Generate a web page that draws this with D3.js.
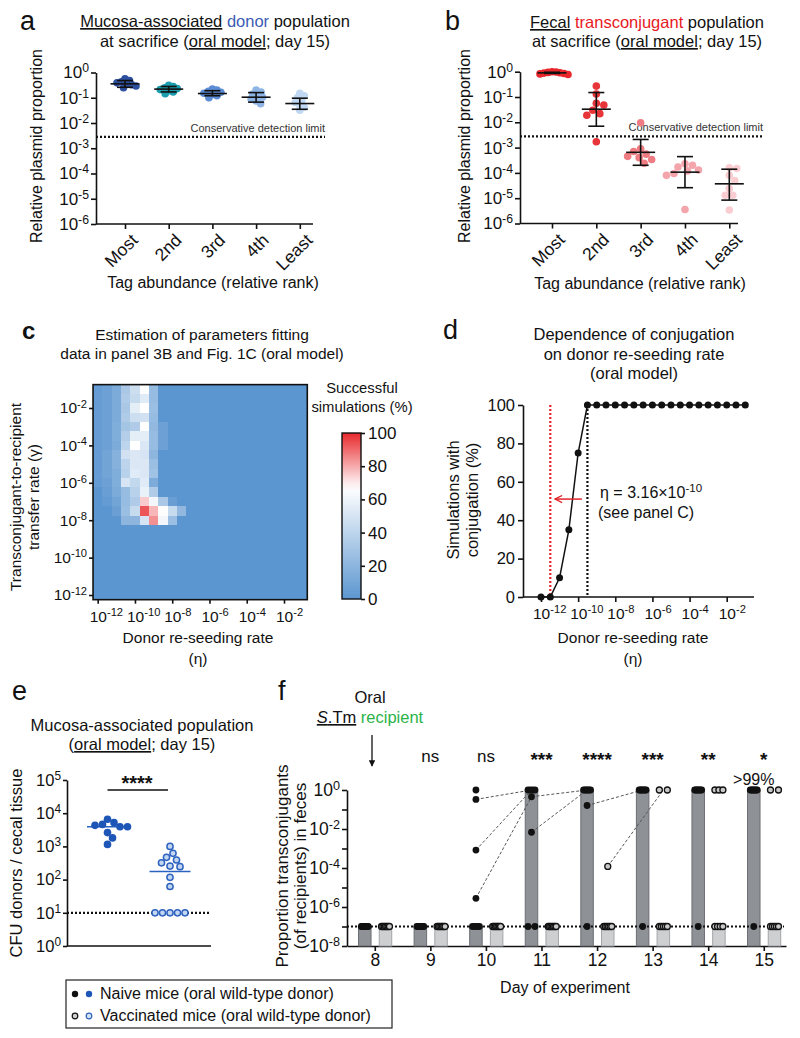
<!DOCTYPE html>
<html>
<head>
<meta charset="utf-8">
<script src="https://cdn.jsdelivr.net/npm/d3@7/dist/d3.min.js"></script>
<style>
html,body{margin:0;padding:0;background:#fff;}
svg{display:block;font-family:"Liberation Sans",Arial,Helvetica,sans-serif;}
</style>
</head>
<body>
<svg id="fig" width="800" height="1038" viewBox="0 0 800 1038"></svg>
<script>
// ================= DATA =================
// Panels a / b
const ranks = ["Most", "2nd", "3rd", "4th", "Least"];
const logTicksAB = [0, -1, -2, -3, -4, -5, -6];
const detectionLimit = 0.0028;

const donorPoints = [
  [0.56, 0.48, 0.43, 0.39, 0.36, 0.33, 0.29, 0.25],
  [0.31, 0.28, 0.25, 0.23, 0.21, 0.19, 0.17, 0.145],
  [0.22, 0.2, 0.18, 0.165, 0.15, 0.135, 0.12, 0.1],
  [0.2, 0.17, 0.14, 0.12, 0.105, 0.09, 0.075, 0.058],
  [0.15, 0.12, 0.1, 0.08, 0.065, 0.052, 0.042, 0.032]
];
const donorMedian = [0.355, 0.22, 0.147, 0.105, 0.059];
const donorLow = [0.26, 0.17, 0.12, 0.067, 0.035];
const donorHigh = [0.48, 0.28, 0.19, 0.16, 0.096];
const donorColors = ["#2d4f9f", "#1c9dad", "#5b8cd5", "#8fb5e7", "#c0d8f2"];

const tcPoints = [
  [1.0, 0.97, 0.94, 0.91, 0.88, 0.85, 0.82, 0.78],
  [0.27, 0.13, 0.056, 0.048, 0.03, 0.022, 0.019, 0.0017],
  [0.0096, 0.0009, 0.0007, 0.00055, 0.00045, 0.0004, 0.00034, 0.00024],
  [0.00023, 0.0002, 0.00017, 0.00013, 0.00012, 0.000095, 0.00008, 0.0000036],
  [0.00016, 0.00015, 0.00008, 0.00005, 0.000024, 0.000013, 0.000013, 0.0000034]
];
const tcMedian = [0.9, 0.033, 0.00065, 0.000107, 0.000037];
const tcLow = [0.86, 0.007, 0.0002, 0.000026, 0.0000084];
const tcHigh = [0.95, 0.15, 0.0021, 0.00044, 0.00014];
const tcColors = ["#e8262c", "#e8353a", "#ef7c82", "#f4a5ab", "#f9cdd1"];

// Panel c : heat map (log10 exponents, half-decade grid)
const etaExp = [-12, -11.5, -11, -10.5, -10, -9.5, -9, -8.5, -8, -7.5, -7, -6.5, -6, -5.5, -5, -4.5, -4, -3.5, -3, -2.5, -2, -1.5, -1];
const gammaExp = [-1, -1.5, -2, -2.5, -3, -3.5, -4, -4.5, -5, -5.5, -6, -6.5, -7, -7.5, -8, -8.5, -9, -9.5, -10, -10.5, -11, -11.5, -12];
// success (%) per gamma row (top to bottom), columns in etaExp order; columns / rows not listed are 0
const successPct = [
  [4, 7, 13, 32, 46, 66, 24, 0],
  [4, 7, 13, 34, 44, 54, 24, 0],
  [4, 7, 13, 32, 56, 67, 26, 0],
  [4, 7, 13, 34, 46, 48, 24, 0],
  [4, 7, 15, 30, 34, 66, 22, 7],
  [4, 7, 15, 36, 56, 56, 24, 7],
  [4, 7, 13, 40, 67, 52, 24, 7],
  [4, 9, 17, 48, 52, 50, 20, 0],
  [4, 9, 17, 40, 52, 52, 26, 0],
  [4, 9, 15, 38, 54, 52, 28, 0],
  [3, 7, 15, 50, 42, 54, 14, 0],
  [0, 5, 13, 24, 38, 58, 34, 0],
  [0, 3, 9, 24, 34, 75, 62, 32, 5],
  [0, 0, 6, 26, 44, 93, 78, 66, 44, 22],
  [0, 0, 0, 20, 20, 50, 84, 62, 26, 0]
];
const colorbarTicks = [0, 20, 40, 60, 80, 100];

// Panel d
const etaD = [-12, -11.5, -11, -10.5, -10, -9.5, -9, -8.5, -8, -7.5, -7, -6.5, -6, -5.5, -5, -4.5, -4, -3.5, -3, -2.5, -2, -1.5, -1];
const conjPct = [0, 0, 10, 35, 75, 100, 100, 100, 100, 100, 100, 100, 100, 100, 100, 100, 100, 100, 100, 100, 100, 100, 100];
const etaFitted = -9.5;   // 3.16e-10
const etaRed = -11.5;

// Panel e
const eGroups = ["Naive", "Vaccinated"];
const naiveCFU = [6600, 5200, 4600, 4300, 3900, 3900, 2600, 1800, 1150];
const vaccCFU = [1000, 620, 470, 390, 320, 255, 245, 117, 62, 10, 10, 10, 10, 10];
const eMedians = [3900, 175];
const cfuLimit = 10;

// Panel f
const days = [8, 9, 10, 11, 12, 13, 14, 15];
const LOD = 1e-7;
const naiveProp = [
  [LOD, LOD, LOD, LOD, LOD, LOD, LOD, LOD],
  [LOD, LOD, LOD, LOD, LOD, LOD, LOD, LOD],
  [1, 0.33, 8.3e-4, 2.8e-6, LOD, LOD, LOD, LOD],
  [1, 1, 1, 1, 0.45, 6.8e-3, LOD, LOD],
  [1, 1, 1, 1, 1, 1, 0.16, LOD],
  [1, 1, 1, 1, 1, 1, 1, LOD],
  [1, 1, 1, 1, 1, 1, 1, LOD],
  [1, 1, 1, 1, 1, 1, 1, LOD]
];
const vaccProp = [
  [LOD, LOD, LOD, LOD, LOD, LOD, LOD],
  [LOD, LOD, LOD, LOD, LOD, LOD, LOD],
  [LOD, LOD, LOD, LOD, LOD, LOD, LOD],
  [LOD, LOD, LOD, LOD, LOD, LOD, LOD],
  [1.2e-4, LOD, LOD, LOD, LOD, LOD, LOD],
  [1, 1, LOD, LOD, LOD, LOD, LOD],
  [1, 1, 1, LOD, LOD, LOD, LOD],
  [1, 1, LOD, LOD, LOD, LOD, LOD]
];
const naiveBar = [LOD, LOD, LOD, 1, 1, 1, 1, 1];
const vaccBar = [LOD, LOD, LOD, LOD, LOD, LOD, LOD, LOD];
// [day from, value from, day to, value to, group]
const fLinks = [
  [10, 0.33, 11, 1, "n"],
  [10, 8.3e-4, 11, 1, "n"],
  [10, 2.8e-6, 11, 0.45, "n"],
  [11, 0.45, 12, 1, "n"],
  [11, 6.8e-3, 12, 1, "n"],
  [12, 0.16, 13, 1, "n"],
  [12, 1.2e-4, 13, 1, "v"]
];
const sigLabels = ["", "ns", "ns", "***", "****", "***", "**", "*"];

// ================= HELPERS =================
const svg = d3.select("#fig");
const defs = svg.append("defs");
const INK = "#111";

function supLabels(sel, expOf) {
  sel.each(function (d) {
    const t = d3.select(this);
    t.text(null);
    t.append("tspan").text("10");
    t.append("tspan").attr("dy", "-0.5em").attr("font-size", "0.72em").text(String(expOf(d)));
  });
}
function styleAxis(g, fs) {
  g.attr("font-family", null).attr("font-size", fs);
  g.select(".domain").attr("stroke", INK).attr("stroke-width", 1.6);
  g.selectAll(".tick line").attr("stroke", INK).attr("stroke-width", 1.6);
  g.selectAll(".tick text").attr("fill", INK);
}
function text(g, x, y, parts, o = {}) {
  const t = g.append("text").attr("x", x).attr("y", y)
    .attr("font-size", o.size || 16).attr("text-anchor", o.anchor || "middle").attr("fill", INK);
  if (o.rotate) t.attr("transform", `rotate(${o.rotate},${x},${y})`);
  if (o.weight) t.attr("font-weight", o.weight);
  parts.forEach(p => {
    if (typeof p === "string") p = { t: p };
    const s = t.append("tspan").text(p.t);
    if (p.fill) s.attr("fill", p.fill);
    if (p.u) s.attr("text-decoration", "underline");
    if (p.i) s.attr("font-style", "italic");
    if (p.sup) s.attr("dy", "-0.5em").attr("font-size", "0.72em");
  });
  return t;
}
function swarm(values, y, cx, minDist) {
  const pts = values.map(v => ({ v, y: y(v) })).sort((a, b) => a.y - b.y);
  const placed = [];
  pts.forEach((p, k) => {
    let dx = 0;
    for (let s = 0; s <= 40; s += 0.5) {
      const cands = s === 0 ? [0] : (k % 2 ? [s, -s] : [-s, s]);
      const hit = cands.find(c => placed.every(q => (q.dx - c) ** 2 + (q.y - p.y) ** 2 >= minDist * minDist));
      if (hit !== undefined) { dx = hit; break; }
    }
    p.dx = dx; p.x = cx + dx; placed.push(p);
  });
  return pts;
}
function spread(values, y, cx, half) {
  const out = [];
  d3.group(values, v => v).forEach((arr, v) => {
    const n = arr.length;
    arr.forEach((_, k) => out.push({ v, x: cx + (n === 1 ? 0 : -half + 2 * half * k / (n - 1)), y: y(v) }));
  });
  return out;
}

// ================= PANELS a & b =================
function dotPanel(o) {
  const g = svg.append("g");
  const y = d3.scaleLog().domain([1e-6, 1]).range([o.y0, o.y1]);
  const x = d3.scalePoint().domain(ranks).range([o.xFirst, o.xLast]);
  const ya = g.append("g").attr("transform", `translate(${o.axisX},0)`)
    .call(d3.axisLeft(y).tickValues(logTicksAB.map(e => Math.pow(10, e))).tickSize(5).tickSizeOuter(0).tickPadding(2));
  styleAxis(ya, 17);
  supLabels(ya.selectAll(".tick text"), d => Math.round(Math.log10(d)));
  const xa = g.append("g").attr("transform", `translate(0,${o.y0})`)
    .call(d3.axisBottom(x).tickSize(5).tickSizeOuter(0));
  styleAxis(xa, 17.5);
  xa.select(".domain").attr("d", `M${o.axisX},0H${o.axisRight}`);
  xa.selectAll(".tick text").attr("text-anchor", "end").attr("y", 0).attr("dy", "0.35em")
    .attr("transform", "translate(9,13) rotate(-45)");
  // detection limit
  g.append("line").attr("x1", o.axisX).attr("x2", o.limitRight)
    .attr("y1", y(detectionLimit)).attr("y2", y(detectionLimit))
    .attr("stroke", INK).attr("stroke-width", 2.2).attr("stroke-dasharray", "2,2");
  g.append("text").attr("x", o.limitRight).attr("y", y(detectionLimit) - 5).attr("text-anchor", "end")
    .attr("font-size", 11).attr("fill", "#333").text("Conservative detection limit");
  ranks.forEach((r, i) => {
    const cx = x(r);
    g.append("g").selectAll("circle").data(swarm(o.points[i], y, cx, o.minDist[i])).join("circle")
      .attr("cx", d => d.x).attr("cy", d => d.y).attr("r", 3.8).attr("fill", o.colors[i]);
    const eb = g.append("g").attr("stroke", INK).attr("stroke-width", 1.6);
    eb.append("line").attr("x1", cx).attr("x2", cx).attr("y1", y(o.hi[i])).attr("y2", y(o.lo[i]));
    eb.append("line").attr("x1", cx - 8).attr("x2", cx + 8).attr("y1", y(o.hi[i])).attr("y2", y(o.hi[i]));
    eb.append("line").attr("x1", cx - 8).attr("x2", cx + 8).attr("y1", y(o.lo[i])).attr("y2", y(o.lo[i]));
    eb.append("line").attr("x1", cx - 14.5).attr("x2", cx + 14.5).attr("y1", y(o.med[i])).attr("y2", y(o.med[i]));
  });
}
dotPanel({ y0: 224, y1: 72.5, axisX: 96, xFirst: 125, xLast: 299.8, axisRight: 313, limitRight: 325,
  points: donorPoints, med: donorMedian, lo: donorLow, hi: donorHigh, colors: donorColors, minDist: [4.5, 4.5, 4.5, 5, 5] });
dotPanel({ y0: 223.5, y1: 71.7, axisX: 520, xFirst: 552, xLast: 729.3, axisRight: 738, limitRight: 763,
  points: tcPoints, med: tcMedian, lo: tcLow, hi: tcHigh, colors: tcColors, minDist: [4, 7.5, 7.5, 7.5, 7.5] });

const gt = svg.append("g");
text(gt, 20, 30, ["a"], { size: 27, anchor: "start" });
text(gt, 215, 27, [{ t: "Mucosa-associated", u: 1 }, " ", { t: "donor", fill: "#3a5cb4" }, " population"], { size: 16.5 });
text(gt, 215, 47, ["at sacrifice (", { t: "oral model", u: 1 }, "; day 15)"], { size: 16.5 });
text(gt, 42, 146, ["Relative plasmid proportion"], { rotate: -90 });
text(gt, 213, 288, ["Tag abundance (relative rank)"]);
text(gt, 445, 30, ["b"], { size: 27, anchor: "start" });
text(gt, 647, 28, [{ t: "Fecal", u: 1 }, " ", { t: "transconjugant", fill: "#e8191f" }, " population"], { size: 16.5 });
text(gt, 647, 47, ["at sacrifice (", { t: "oral model", u: 1 }, "; day 15)"], { size: 16.5 });
text(gt, 470, 146, ["Relative plasmid proportion"], { rotate: -90 });
text(gt, 640, 289, ["Tag abundance (relative rank)"]);

// ================= PANEL c =================
{
  const g = svg.append("g");
  const xC = d3.scaleLinear().domain([-12, -2]).range([97.7, 284]);
  const yC = d3.scaleLinear().domain([-12, -2]).range([595, 408]);
  const heat = d3.scaleLinear().domain([0, 67, 100]).range(["#5c96d0", "#ffffff", "#e8282c"]);
  const cells = [];
  gammaExp.forEach((ge, j) => etaExp.forEach((ee, i) => {
    const row = successPct[j] || [];
    cells.push({ ge, ee, v: row[i] !== undefined ? row[i] : 0 });
  }));
  g.append("g").attr("shape-rendering", "crispEdges").selectAll("rect").data(cells).join("rect")
    .attr("x", d => xC(d.ee - 0.25)).attr("width", d => xC(d.ee + 0.25) - xC(d.ee - 0.25) + 0.5)
    .attr("y", d => yC(d.ge + 0.25)).attr("height", d => yC(d.ge - 0.25) - yC(d.ge + 0.25) + 0.5)
    .attr("fill", d => heat(d.v));
  const left = xC(-12.25), right = xC(-0.75), top = yC(-0.75), bottom = yC(-12.25);
  g.append("rect").attr("x", left).attr("y", top).attr("width", right - left).attr("height", bottom - top)
    .attr("fill", "none").attr("stroke", INK).attr("stroke-width", 1.6);
  const ya = g.append("g").attr("transform", `translate(${left},0)`)
    .call(d3.axisLeft(yC).tickValues([-2, -4, -6, -8, -10, -12]).tickSize(4).tickSizeOuter(0).tickPadding(2));
  styleAxis(ya, 15.5); ya.select(".domain").remove();
  supLabels(ya.selectAll(".tick text"), d => d);
  const xa = g.append("g").attr("transform", `translate(0,${bottom})`)
    .call(d3.axisBottom(xC).tickValues([-12, -10, -8, -6, -4, -2]).tickSize(4).tickSizeOuter(0).tickPadding(7));
  styleAxis(xa, 15.5); xa.select(".domain").remove();
  xa.selectAll(".tick text").attr("text-anchor", "start").attr("x", -8.5);
  supLabels(xa.selectAll(".tick text"), d => d);

  // colour bar
  const cb = d3.scaleLinear().domain([0, 100]).range([599, 433]);
  const grad = defs.append("linearGradient").attr("id", "cbgrad")
    .attr("x1", 0).attr("y1", 1).attr("x2", 0).attr("y2", 0);
  d3.range(0, 101, 5).forEach(v => grad.append("stop").attr("offset", v / 100).attr("stop-color", heat(v)));
  g.append("rect").attr("x", 342).attr("y", cb(100)).attr("width", 19).attr("height", cb(0) - cb(100))
    .attr("fill", "url(#cbgrad)").attr("stroke", INK).attr("stroke-width", 1.4);
  const ca = g.append("g").attr("transform", "translate(361,0)")
    .call(d3.axisRight(cb).tickValues(colorbarTicks).tickSize(4).tickSizeOuter(0).tickPadding(3));
  styleAxis(ca, 17); ca.select(".domain").remove();

  text(g, 22, 339, ["c"], { size: 24, anchor: "start", weight: "bold" });
  text(g, 202, 340, ["Estimation of parameters fitting"], { size: 15.5 });
  text(g, 202, 359, ["data in panel 3B and Fig. 1C (oral model)"], { size: 15.5 });
  text(g, 21, 497, ["Transconjugant-to-recipient"], { rotate: -90, size: 15.5 });
  text(g, 39, 497, ["transfer rate (γ)"], { rotate: -90, size: 15.5 });
  text(g, 198, 643, ["Donor re-seeding rate"], { size: 15.5 });
  text(g, 198, 664, ["(η)"], { size: 15.5 });
  text(g, 362, 393, ["Successful"], { size: 14.8 });
  text(g, 362, 412, ["simulations (%)"], { size: 14.8 });
}

// ================= PANEL d =================
{
  const g = svg.append("g");
  const xD = d3.scaleLinear().domain([-12, -2]).range([541, 726.7]);
  const yD = d3.scaleLinear().domain([0, 100]).range([597, 405]);
  const ya = g.append("g").attr("transform", "translate(523,0)")
    .call(d3.axisLeft(yD).tickValues([0, 20, 40, 60, 80, 100]).tickSize(5).tickSizeOuter(0).tickPadding(3));
  styleAxis(ya, 16.5);
  const xa = g.append("g").attr("transform", "translate(0,597)")
    .call(d3.axisBottom(xD).tickValues([-12, -10, -8, -6, -4, -2]).tickSize(5).tickSizeOuter(0).tickPadding(6));
  styleAxis(xa, 15.5);
  xa.select(".domain").attr("d", "M523,0H754");
  xa.selectAll(".tick text").attr("text-anchor", "start").attr("x", -8.5);
  supLabels(xa.selectAll(".tick text"), d => d);

  [[etaRed, "#e3242b"], [etaFitted, INK]].forEach(([e, c]) => {
    g.append("line").attr("x1", xD(e)).attr("x2", xD(e)).attr("y1", yD(100)).attr("y2", yD(0))
      .attr("stroke", c).attr("stroke-width", 2.2).attr("stroke-dasharray", "2,2");
  });
  const pts = etaD.map((e, i) => ({ e, v: conjPct[i] }));
  g.append("path").datum(pts).attr("fill", "none").attr("stroke", INK).attr("stroke-width", 1.5)
    .attr("d", d3.line().x(d => xD(d.e)).y(d => yD(d.v)));
  g.selectAll("circle").data(pts).join("circle").attr("cx", d => xD(d.e)).attr("cy", d => yD(d.v))
    .attr("r", 3.5).attr("fill", INK);
  // red arrow pointing left
  defs.append("marker").attr("id", "arrRed").attr("viewBox", "0 0 10 10").attr("refX", 9).attr("refY", 5)
    .attr("markerUnits", "userSpaceOnUse").attr("markerWidth", 9).attr("markerHeight", 9).attr("orient", "auto")
    .append("path").attr("d", "M1,1L9,5L1,9").attr("fill", "none").attr("stroke", "#e3242b").attr("stroke-width", 1.4);
  g.append("line").attr("x1", xD(-9.8)).attr("x2", xD(-11.25)).attr("y1", yD(51)).attr("y2", yD(51))
    .attr("stroke", "#e3242b").attr("stroke-width", 1.5).attr("marker-end", "url(#arrRed)");
  text(g, 600, 498, ["η = 3.16×10", { t: "-10", sup: 1 }], { anchor: "start", size: 16 });
  text(g, 598, 518, ["(see panel C)"], { anchor: "start", size: 16 });

  text(g, 443, 339, ["d"], { size: 27, anchor: "start" });
  text(g, 634, 340, ["Dependence of conjugation"], { size: 16.5 });
  text(g, 634, 360, ["on donor re-seeding rate"], { size: 16.5 });
  text(g, 634, 379, ["(oral model)"], { size: 16.5 });
  text(g, 459, 500, ["Simulations with"], { rotate: -90, size: 16.5 });
  text(g, 478, 500, ["conjugation (%)"], { rotate: -90, size: 16.5 });
  text(g, 633, 643, ["Donor re-seeding rate"], { size: 15.5 });
  text(g, 633, 664, ["(η)"], { size: 15.5 });
}

// ================= PANEL e =================
{
  const g = svg.append("g");
  const yE = d3.scaleLog().domain([1, 1e5]).range([946, 780]);
  const xE = d3.scalePoint().domain(eGroups).range([107.5, 170]);
  const ya = g.append("g").attr("transform", "translate(67,0)")
    .call(d3.axisLeft(yE).tickValues([1, 10, 100, 1000, 1e4, 1e5]).tickSize(4).tickSizeOuter(0).tickPadding(2));
  styleAxis(ya, 16.5);
  supLabels(ya.selectAll(".tick text"), d => Math.round(Math.log10(d)));
  g.append("line").attr("x1", 67).attr("x2", 211).attr("y1", 946).attr("y2", 946).attr("stroke", INK).attr("stroke-width", 1.6);
  g.append("line").attr("x1", 67).attr("x2", 211).attr("y1", yE(cfuLimit)).attr("y2", yE(cfuLimit))
    .attr("stroke", INK).attr("stroke-width", 2.2).attr("stroke-dasharray", "2,2");
  eMedians.forEach((m, i) => {
    const cx = xE(eGroups[i]);
    g.append("line").attr("x1", cx - 20.5).attr("x2", cx + 20.5).attr("y1", yE(m)).attr("y2", yE(m))
      .attr("stroke", "#2a62c2").attr("stroke-width", 1.6);
  });
  g.selectAll(".nv").data(swarm(naiveCFU, yE, xE("Naive"), 7.2)).join("circle")
    .attr("cx", d => d.x).attr("cy", d => d.y).attr("r", 3.8).attr("fill", "#1d56b6");
  g.selectAll(".vc").data(swarm(vaccCFU, yE, xE("Vaccinated"), 7.4)).join("circle")
    .attr("cx", d => d.x).attr("cy", d => d.y).attr("r", 3.1).attr("fill", "#c4d7f1")
    .attr("stroke", "#2f63c0").attr("stroke-width", 1.5);
  g.append("line").attr("x1", xE("Naive")).attr("x2", 168).attr("y1", 790).attr("y2", 790).attr("stroke", INK).attr("stroke-width", 1.6);
  text(g, 137, 790, ["****"], { size: 20, weight: "bold" });

  text(g, 12, 700, ["e"], { size: 27, anchor: "start" });
  text(g, 142, 731, ["Mucosa-associated population"], { size: 16.5 });
  text(g, 142, 750, ["(", { t: "oral model", u: 1 }, "; day 15)"], { size: 16.5 });
  text(g, 22, 863, ["CFU donors / cecal tissue"], { rotate: -90, size: 16.5 });

  // legend
  g.append("rect").attr("x", 66).attr("y", 980).attr("width", 326).attr("height", 48)
    .attr("fill", "#fff").attr("stroke", "#222").attr("stroke-width", 1.2);
  g.append("circle").attr("cx", 75).attr("cy", 994).attr("r", 3.2).attr("fill", INK);
  g.append("circle").attr("cx", 89).attr("cy", 994).attr("r", 3.2).attr("fill", "#1d56b6");
  g.append("circle").attr("cx", 75).attr("cy", 1016).attr("r", 2.8).attr("fill", "#cfcfcf").attr("stroke", INK).attr("stroke-width", 1.2);
  g.append("circle").attr("cx", 89).attr("cy", 1016).attr("r", 2.8).attr("fill", "#d4e2f5").attr("stroke", "#2f63c0").attr("stroke-width", 1.2);
  text(g, 100, 999, ["Naive mice (oral wild-type donor)"], { anchor: "start", size: 16 });
  text(g, 100, 1021, ["Vaccinated mice (oral wild-type donor)"], { anchor: "start", size: 16 });
}

// ================= PANEL f =================
{
  const g = svg.append("g");
  const xF = d3.scaleLinear().domain([7.5, 15.4]).range([347, 786]);
  const yF = d3.scaleLog().domain([1e-8, 1]).range([946, 790]);
  const dxN = -10, dxV = 10.7, bw = 12.5;
  const ya = g.append("g").attr("transform", "translate(347,0)")
    .call(d3.axisLeft(yF).tickValues([1, 1e-1, 1e-2, 1e-3, 1e-4, 1e-5, 1e-6, 1e-7, 1e-8]).tickSize(5).tickSizeOuter(0).tickPadding(2));
  styleAxis(ya, 17.5);
  ya.selectAll(".tick").filter(d => Math.round(Math.log10(d)) % 2 !== 0).select("text").remove();
  supLabels(ya.selectAll(".tick text"), d => Math.round(Math.log10(d)));
  const xa = g.append("g").attr("transform", "translate(0,946)")
    .call(d3.axisBottom(xF).tickValues(days).tickSize(5).tickSizeOuter(0).tickPadding(3));
  styleAxis(xa, 17.5);

  // bars
  days.forEach((d, i) => {
    g.append("rect").attr("x", xF(d) + dxN - bw / 2).attr("width", bw).attr("y", yF(naiveBar[i]))
      .attr("height", yF(1e-8) - yF(naiveBar[i])).attr("fill", "#8e9196").attr("stroke", "#6b6e73").attr("stroke-width", 1);
    g.append("rect").attr("x", xF(d) + dxV - bw / 2).attr("width", bw).attr("y", yF(vaccBar[i]))
      .attr("height", yF(1e-8) - yF(vaccBar[i])).attr("fill", "#cdcfd1").attr("stroke", "#a3a5a8").attr("stroke-width", 1);
  });
  g.append("line").attr("x1", 347).attr("x2", 784).attr("y1", yF(LOD)).attr("y2", yF(LOD))
    .attr("stroke", INK).attr("stroke-width", 2.2).attr("stroke-dasharray", "2,2");
  // links
  fLinks.forEach(([d1, v1, d2, v2, grp]) => {
    const off = grp === "n" ? dxN : dxV;
    g.append("line").attr("x1", xF(d1) + off).attr("y1", yF(v1)).attr("x2", xF(d2) + off).attr("y2", yF(v2))
      .attr("stroke", "#555").attr("stroke-width", 1).attr("stroke-dasharray", "3,2");
  });
  // points
  days.forEach((d, i) => {
    g.append("g").selectAll("circle").data(spread(vaccProp[i], yF, xF(d) + dxV, 4)).join("circle")
      .attr("cx", p => p.x).attr("cy", p => p.y).attr("r", 3).attr("fill", "#c9c9c9").attr("stroke", INK).attr("stroke-width", 1.3);
    g.append("g").selectAll("circle").data(spread(naiveProp[i], yF, xF(d) + dxN, 3.5)).join("circle")
      .attr("cx", p => p.x).attr("cy", p => p.y).attr("r", 3.4).attr("fill", INK);
    if (sigLabels[i]) {
      const star = sigLabels[i].startsWith("*");
      text(g, xF(d), star ? 766 : 762, [sigLabels[i]], { size: star ? 19 : 17, weight: star ? "bold" : null });
    }
  });
  text(g, xF(15) - 10, 785, [">99%"], { size: 16 });

  text(g, 278, 700, ["f"], { size: 27, anchor: "start" });
  text(g, 370, 703, ["Oral"], { size: 16.5 });
  text(g, 370, 723, [{ t: "S", i: 1, u: 1 }, { t: ".Tm", u: 1 }, " ", { t: "recipient", fill: "#2bb34a" }], { size: 16.5 });
  defs.append("marker").attr("id", "arrBlk").attr("viewBox", "0 0 10 10").attr("refX", 9).attr("refY", 5)
    .attr("markerWidth", 5).attr("markerHeight", 5).attr("orient", "auto")
    .append("path").attr("d", "M0,0L10,5L0,10Z").attr("fill", INK);
  g.append("line").attr("x1", 372).attr("x2", 372).attr("y1", 735).attr("y2", 766)
    .attr("stroke", INK).attr("stroke-width", 1.3).attr("marker-end", "url(#arrBlk)");
  text(g, 288, 866, ["Proportion transconjugants"], { rotate: -90, size: 17 });
  text(g, 306, 866, ["(of recipients) in feces"], { rotate: -90, size: 17 });
  text(g, 565, 993, ["Day of experiment"], { size: 16 });
}
</script>
</body>
</html>
